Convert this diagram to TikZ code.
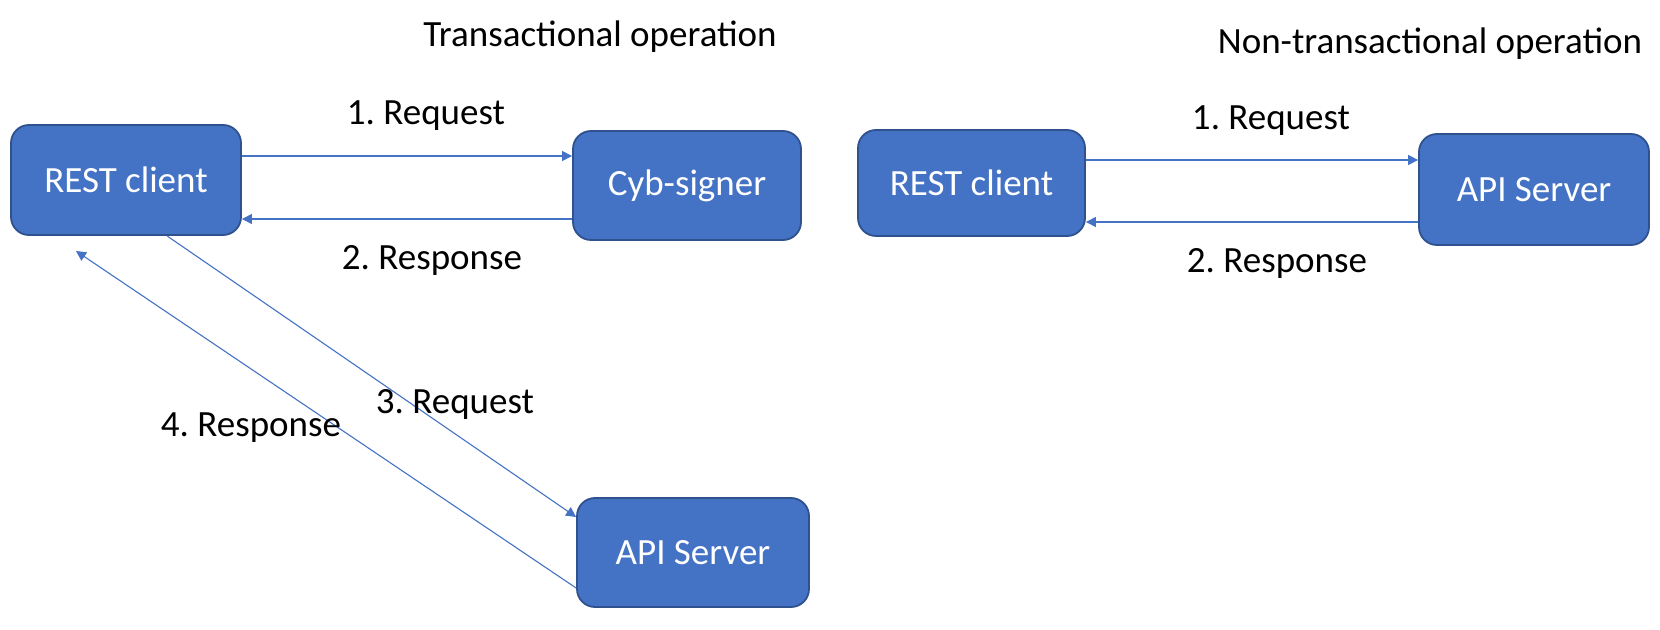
\documentclass[tikz,border=0pt]{standalone}
\usepackage{fontspec}
\setmainfont{Carlito}
\usetikzlibrary{arrows.meta,calc}
\definecolor{boxblue}{HTML}{4472C4}
\definecolor{boxedge}{HTML}{2F528F}
\frenchspacing
\begin{document}
\begin{tikzpicture}[x=0.5pt,y=-0.5pt,
  box/.style={draw=boxedge,line width=0.9pt,fill=boxblue,rounded corners=9pt,text=white,
    font=\fontsize{18.5}{22}\selectfont,inner sep=0pt},
  lbl/.style={font=\fontsize{18.5}{22}\selectfont,text=black,inner sep=0pt},
  arr/.style={draw=boxblue,line width=0.55pt,-{Triangle[length=5pt,width=5pt]}}]
\useasboundingbox (0,0) rectangle (1660,630);
% boxes
\node[box,minimum width=115pt,minimum height=55pt] (rc1) at (126,180) {REST client};
\node[box,minimum width=114pt,minimum height=54.5pt] (cs) at (687,185.5) {Cyb-signer};
\node[box,minimum width=116pt,minimum height=54.5pt] (as1) at (693,552.5) {API Server};
\node[box,minimum width=113.5pt,minimum height=53pt] (rc2) at (971.5,183) {REST client};
\node[box,minimum width=115pt,minimum height=55.5pt] (as2) at (1534,189.5) {API Server};
% titles
\node[lbl] (t1) at (600,37) {Transactional operation};
\node[lbl] (t2) at (1430,44) {Non-transactional operation};
% left connectors
\draw[arr] ([yshift=12pt]rc1.east) -- ([yshift=12pt]rc1.east -| cs.west);
\draw[arr] ([yshift=-19.5pt]rc1.east -| cs.west) -- ([yshift=-19.5pt]rc1.east);
\draw[arr] ([xshift=20.5pt]rc1.south) -- ([yshift=17.75pt]as1.west);
\coordinate (r4end) at (76,251);
\draw[arr] ([yshift=-17.75pt]as1.west) -- (r4end);
% right connectors
\draw[arr] ([yshift=11.5pt]rc2.east) -- ([yshift=11.5pt]rc2.east -| as2.west);
\draw[arr] ([yshift=-19.5pt]rc2.east -| as2.west) -- ([yshift=-19.5pt]rc2.east);
% labels
\node[lbl] (l1) at (426,116) {1. Request};
\node[lbl] (l2) at (432,260) {2. Response};
\node[lbl] (l3) at (455,404) {3. Request};
\node[lbl] (l4) at (251,428) {4. Response};
\node[lbl] (l5) at (1271,121) {1. Request};
\node[lbl] (l6) at (1277,263) {2. Response};
\end{tikzpicture}
\end{document}
